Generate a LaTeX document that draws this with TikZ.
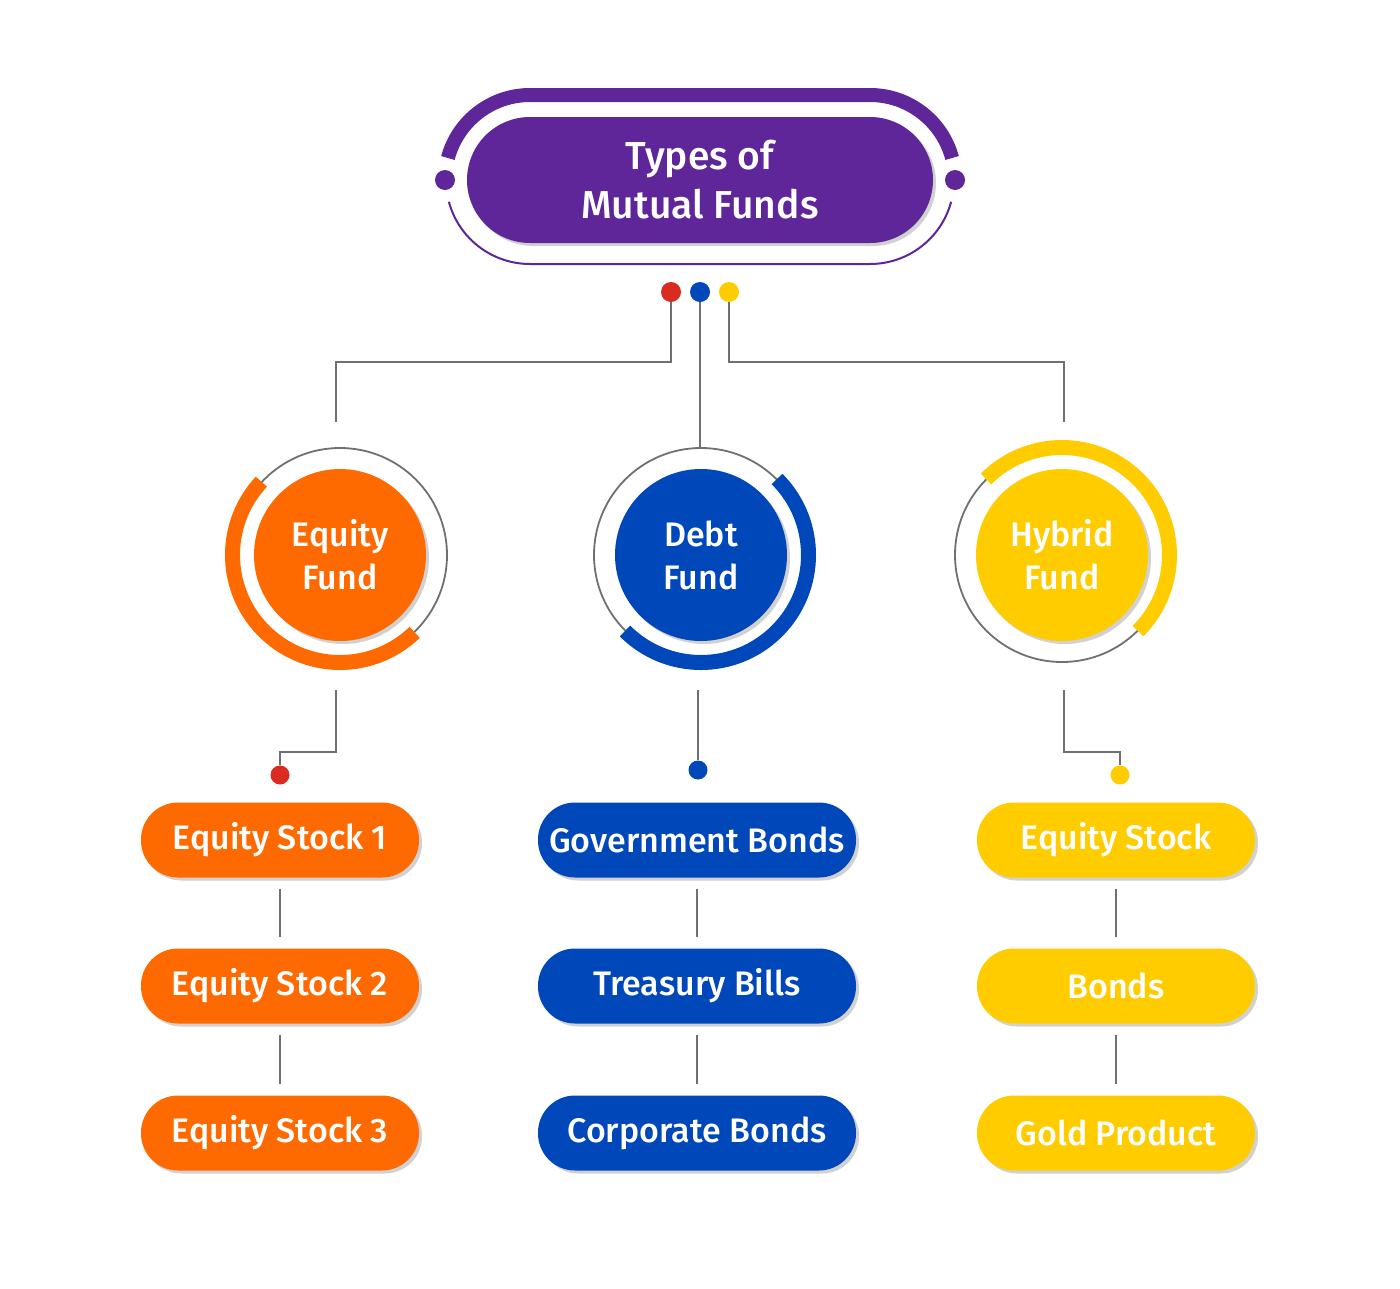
\documentclass[tikz,border=0pt]{standalone}
\usepackage{fontspec}
\setmainfont{Fira Sans Medium}
\usetikzlibrary{shadows}
\definecolor{purp}{HTML}{5E2699}
\definecolor{org}{HTML}{FF6A00}
\definecolor{blu}{HTML}{0047BA}
\definecolor{yel}{HTML}{FFCC00}
\definecolor{dred}{HTML}{D92B1F}
\definecolor{lgray}{HTML}{707070}
\begin{document}
\begin{tikzpicture}[x=1pt,y=-1pt,
 shd/.style={drop shadow={shadow xshift=3pt,shadow yshift=-3pt,opacity=0.18,fill=black}},
 pill/.style={shd, rounded corners=37pt, minimum height=75pt, text=white, font=\fontsize{34}{36}\selectfont, inner sep=0pt},
 fundc/.style={circle, shd, minimum size=172pt, inner sep=0pt, text=white, font=\fontsize{34}{43}\selectfont, align=center},
 conn/.style={draw=lgray, line width=2.4pt},
 knob/.style={circle, minimum size=20pt, inner sep=0pt},
 ring/.style={draw=lgray, line width=1.8pt},
 band/.style={line width=15pt}]
\useasboundingbox (0,0) rectangle (1400,1288);

% title
\draw[purp, line width=14pt] (530,180) ++(195:85) arc (195:270:85) -- (870,95) arc (270:345:85);
\draw[purp, line width=2pt] (530,180) ++(165:84) arc (165:90:84) -- (870,264) arc (90:15:84);
\node[knob, fill=purp] (tl) at (445,180) {};
\node[knob, fill=purp] (tr) at (955,180) {};
\node[shd, fill=purp, rounded corners=63pt, minimum width=466pt, minimum height=126pt, inner sep=0pt,
  text=white, align=center, font=\fontsize{39}{49}\selectfont] (title) at (700,180) {Types of\\Mutual Funds};

% top pins
\node[knob, fill=dred] (dr) at (671,292) {};
\node[knob, fill=blu] (db) at (700,292) {};
\node[knob, fill=yel] (dy) at (729,292) {};

% fund circles
\node[fundc, fill=org] (eq) at (340,555) {Equity\\Fund};
\node[fundc, fill=blu] (debt) at (701,555) {Debt\\Fund};
\node[fundc, fill=yel] (hyb) at (1062,555) {Hybrid\\Fund};

\draw[ring] (eq.center) circle[radius=107];
\draw[org, band] (eq.center) ++(-137:107.5) arc (-137:-314:107.5);
\draw[ring] (debt.center) circle[radius=107];
\draw[blu, band] (debt.center) ++(-45:107.5) arc (-45:135:107.5);
\draw[ring] (hyb.center) circle[radius=107];
\draw[yel, band] (hyb.center) ++(-135:107.5) arc (-135:45:107.5);

\coordinate (eqtop) at (336,422);
\coordinate (debttop) at (700,448);
\coordinate (hybtop) at (1064,422);
\draw[conn] (dr.south) -- ++(0,60) -| (eqtop);
\draw[conn] (db.south) -- (debttop);
\draw[conn] (dy.south) -- ++(0,60) -| (hybtop);

% lower pins
\node[knob, minimum size=19pt, fill=dred] (er) at (280,775) {};
\node[knob, minimum size=19pt, fill=blu] (bl) at (698,770) {};
\node[knob, minimum size=19pt, fill=yel] (yl) at (1120,775) {};
\coordinate (eqbot) at (336,690);
\coordinate (debtbot) at (698,690);
\coordinate (hybbot) at (1064,690);
\draw[conn] (eqbot) -- ++(0,62) -| (er.north);
\draw[conn] (debtbot) -- (bl.north);
\draw[conn] (hybbot) -- ++(0,62) -| (yl.north);

% pills
\node[pill, fill=org, minimum width=278pt] (e1) at (280,840) {Equity Stock 1};
\node[pill, fill=org, minimum width=278pt] (e2) at (280,986) {Equity Stock 2};
\node[pill, fill=org, minimum width=278pt] (e3) at (280,1133) {Equity Stock 3};
\node[pill, fill=blu, minimum width=318pt] (d1) at (697,840) {Government Bonds};
\node[pill, fill=blu, minimum width=318pt] (d2) at (697,986) {Treasury Bills};
\node[pill, fill=blu, minimum width=318pt] (d3) at (697,1133) {Corporate Bonds};
\node[pill, fill=yel, minimum width=278pt] (h1) at (1116,840) {Equity Stock};
\node[pill, fill=yel, minimum width=278pt] (h2) at (1116,986) {Bonds};
\node[pill, fill=yel, minimum width=278pt] (h3) at (1116,1133) {Gold Product};

\foreach \a/\b in {e1/e2,e2/e3,d1/d2,d2/d3,h1/h2,h2/h3}
  \draw[conn, shorten <=11pt, shorten >=11pt] (\a) -- (\b);
\end{tikzpicture}
\end{document}
